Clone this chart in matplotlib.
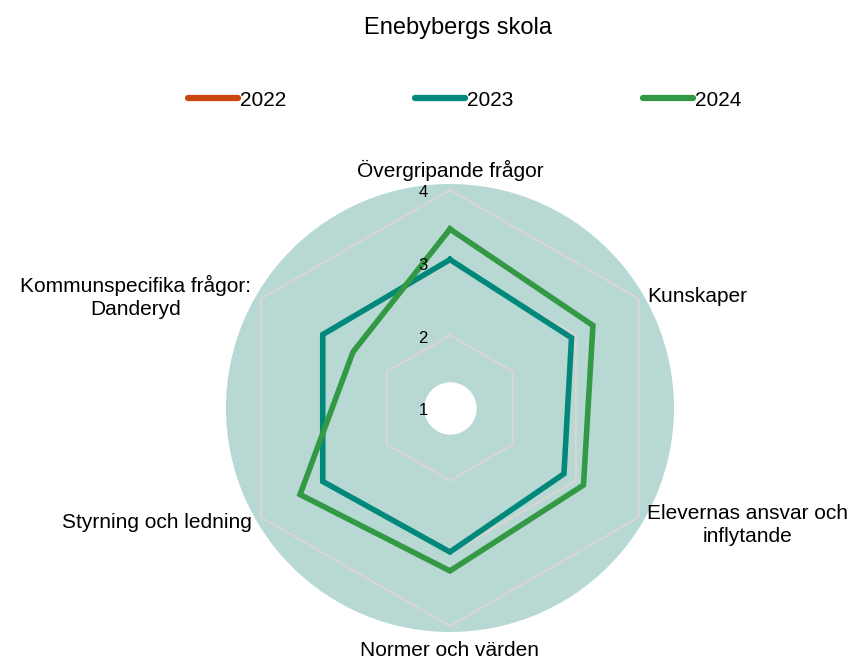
import numpy as np
import matplotlib
matplotlib.use("Agg")
import matplotlib.pyplot as plt
from matplotlib.lines import Line2D

plt.rcParams['font.family'] = ['Liberation Sans', 'DejaVu Sans']

title = "Enebybergs skola"
categories = ["Övergripande frågor", "Kunskaper", "Elevernas ansvar och\ninflytande",
              "Normer och värden", "Styrning och ledning", "Kommunspecifika frågor:\nDanderyd"]
years = ["2022", "2023", "2024"]
colors = ["#c9470f", "#00897b", "#339944"]
values_2022 = [np.nan] * 6
values_2023 = [3.04, 2.93, 2.81, 2.98, 3.02, 3.02]
values_2024 = [3.46, 3.27, 3.12, 3.24, 3.38, 2.54]
series = [values_2022, values_2023, values_2024]
levels = [1, 2, 3, 4]

n = len(categories)
# clockwise from top
angles = np.pi / 2 - np.arange(n) * 2 * np.pi / n
angles_closed = np.append(angles, angles[0])

fig = plt.figure(figsize=(8.53, 6.59), dpi=100)
ax = fig.add_axes([0.2649, 0.041, 0.5252, 0.6798], projection='polar')
ax.set_ylim(1, 4.08)
ax.set_facecolor('#b8d8d4')
ax.spines['polar'].set_visible(False)
ax.grid(False)
ax.set_xticks([])
ax.set_yticks([])

# hexagonal grid
for lv in levels[1:]:
    ax.plot(angles_closed, [lv] * (n + 1), color='#ddd5d5', lw=1.3, zorder=1)

# white hole in the middle
th = np.linspace(0, 2 * np.pi, 200)
ax.fill_between(th, 1, 1.36, color='white', zorder=2, lw=0)

for vals, c in zip(series, colors):
    v = np.append(vals, vals[0])
    ax.plot(angles_closed, v, color=c, lw=4, zorder=3, solid_joinstyle='miter')

for lv in levels:
    ax.annotate(str(lv), (np.pi / 2, lv), xytext=(-27, -3), textcoords='offset pixels',
                ha='center', va='center', fontsize=12, zorder=4, annotation_clip=False)

# category labels, offsets in pixels from the centre
label_pos = [
    (0, 238, 'center'),
    (197, 111, 'left'),
    (298, -117, 'center'),
    (0, -243, 'center'),
    (-198, -115, 'right'),
    (-314, 111, 'center'),
]
for cat, (dx, dy, ha) in zip(categories, label_pos):
    ax.annotate(cat, (0, 1), xytext=(dx, dy), textcoords='offset pixels',
                ha=ha, va='center', fontsize=15, multialignment='center',
                linespacing=1.3, annotation_clip=False)

fig.text(0.537, 0.958, title, ha='center', va='center', fontsize=17)

handles = [Line2D([0], [0], color=c, lw=4.5, solid_capstyle='round') for c in colors]
fig.legend(handles, years, loc='center', bbox_to_anchor=(0.5446, 0.848), ncol=3,
           frameon=False, fontsize=15, handlelength=2.4, handletextpad=0.1,
           columnspacing=6.2)

fig.savefig('out.png', dpi=100)
